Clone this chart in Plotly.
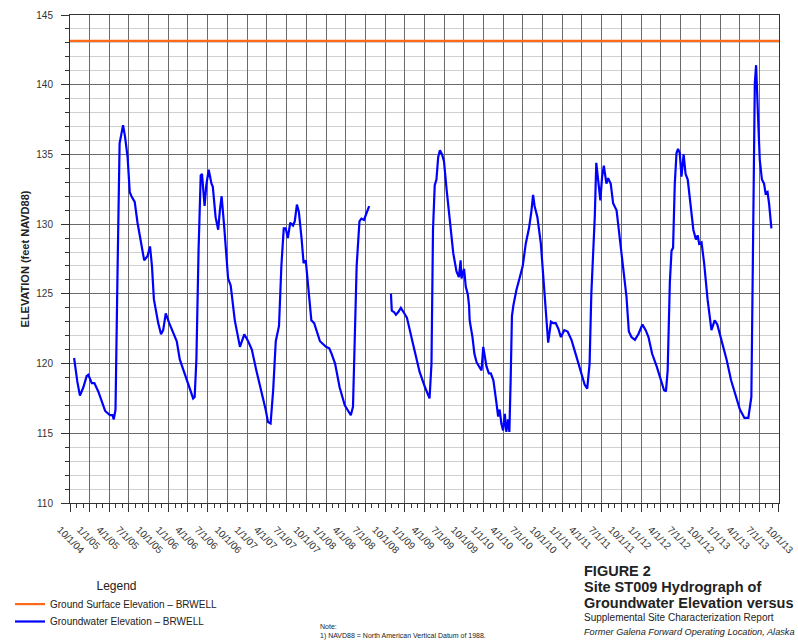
import plotly.graph_objects as go

# ---------------- data ----------------
gs_dates = ["2004-10-01", "2013-10-01"]
gs_elev = [143.15, 143.15]

gw_dates = [
    "2004-10-20", "2004-11-01", "2004-11-04", "2004-11-16", "2004-12-02", "2004-12-17", "2004-12-25",
    "2005-01-10", "2005-01-22", "2005-02-09", "2005-02-23", "2005-03-13", "2005-04-04", "2005-04-16",
    "2005-04-22", "2005-04-30", "2005-05-09", "2005-05-19", "2005-06-04", "2005-06-13", "2005-06-25",
    "2005-07-05", "2005-07-13", "2005-07-28", "2005-08-10", "2005-08-25", "2005-09-10", "2005-09-25",
    "2005-10-07", "2005-10-16", "2005-10-25", "2005-11-14", "2005-11-27", "2005-12-07", "2005-12-19",
    "2006-01-04", "2006-01-22", "2006-02-08", "2006-02-22", "2006-03-16", "2006-04-10", "2006-04-25",
    "2006-05-02", "2006-05-10", "2006-05-20", "2006-05-30", "2006-06-05", "2006-06-17", "2006-06-25",
    "2006-07-06", "2006-07-19", "2006-07-25", "2006-08-07", "2006-08-19", "2006-08-27", "2006-09-04",
    "2006-09-16", "2006-10-04", "2006-10-16", "2006-11-04", "2006-11-28", "2006-12-18",
    "2007-01-05", "2007-01-22", "2007-02-12", "2007-03-07", "2007-03-27", "2007-04-07", "2007-04-19",
    "2007-05-01", "2007-05-13", "2007-05-28", "2007-06-08", "2007-06-19", "2007-06-28", "2007-07-08",
    "2007-07-19", "2007-08-01", "2007-08-09", "2007-08-19", "2007-08-28", "2007-09-10", "2007-09-19",
    "2007-09-29", "2007-10-10", "2007-10-25", "2007-11-07", "2007-11-19", "2007-12-04",
    "2008-01-01", "2008-01-16", "2008-01-27", "2008-02-12", "2008-03-04", "2008-03-28", "2008-04-13",
    "2008-04-25", "2008-05-05", "2008-05-13", "2008-05-22", "2008-06-04", "2008-06-13", "2008-06-25",
    "2008-07-07", "2008-07-19", "2008-09-01", "2008-10-28", "2008-11-01", "2008-11-11", "2008-11-20",
    "2008-12-01", "2008-12-13", "2008-12-25",
    "2009-01-10", "2009-02-09", "2009-03-10", "2009-04-04", "2009-04-25", "2009-05-04", "2009-05-11",
    "2009-05-19", "2009-05-27", "2009-06-04", "2009-06-12", "2009-06-22", "2009-07-01", "2009-07-13",
    "2009-07-28", "2009-08-13", "2009-08-28", "2009-09-08", "2009-09-16", "2009-09-20", "2009-10-02",
    "2009-10-10", "2009-10-19", "2009-10-25", "2009-10-28", "2009-11-10", "2009-11-19", "2009-11-29",
    "2009-12-14", "2009-12-22", "2009-12-30",
    "2010-01-07", "2010-01-14", "2010-01-25", "2010-02-03", "2010-02-15", "2010-02-21", "2010-03-01",
    "2010-03-09", "2010-03-16", "2010-03-24", "2010-04-01", "2010-04-09", "2010-04-16", "2010-04-24",
    "2010-04-30", "2010-05-06", "2010-05-12", "2010-05-19", "2010-05-25", "2010-06-02", "2010-06-16",
    "2010-07-01", "2010-07-15", "2010-07-30", "2010-08-10", "2010-08-18", "2010-08-25", "2010-09-07",
    "2010-09-23", "2010-10-08", "2010-10-19", "2010-10-27", "2010-11-09", "2010-11-19", "2010-12-01",
    "2010-12-13", "2010-12-25",
    "2011-01-10", "2011-01-25", "2011-02-12", "2011-03-07", "2011-03-30", "2011-04-14", "2011-04-26",
    "2011-05-07", "2011-05-15", "2011-05-22", "2011-05-31", "2011-06-07", "2011-06-16", "2011-06-26",
    "2011-07-04", "2011-07-12", "2011-07-24", "2011-08-01", "2011-08-13", "2011-08-24", "2011-09-09",
    "2011-09-25", "2011-10-10", "2011-10-25", "2011-11-05", "2011-11-17", "2011-12-03", "2011-12-19",
    "2012-01-07", "2012-01-22", "2012-02-04", "2012-02-21", "2012-03-13", "2012-04-02", "2012-04-16",
    "2012-04-25", "2012-05-03", "2012-05-13", "2012-05-21", "2012-05-28", "2012-06-05", "2012-06-13",
    "2012-06-20", "2012-06-28", "2012-07-06", "2012-07-16", "2012-07-25", "2012-08-04", "2012-08-15",
    "2012-08-30", "2012-09-11", "2012-09-19", "2012-09-26", "2012-10-07", "2012-10-19", "2012-11-04",
    "2012-11-22", "2012-12-07", "2012-12-19",
    "2013-01-07", "2013-01-31", "2013-02-21", "2013-03-16", "2013-04-03", "2013-04-24", "2013-05-12",
    "2013-05-26", "2013-06-04", "2013-06-11", "2013-06-17", "2013-06-21", "2013-06-26", "2013-07-04",
    "2013-07-14", "2013-07-24", "2013-07-31", "2013-08-09", "2013-08-16", "2013-08-27",
]
gw_elev = [
    120.4, 118.8, 118.7, 117.7, 118.3, 119.1, 119.2,
    118.6, 118.6, 118.0, 117.4, 116.6, 116.3, 116.3,
    116.0, 116.7, 126.2, 135.8, 137.1, 136.3, 134.8,
    132.3, 132.0, 131.6, 130.1, 128.9, 127.4, 127.7,
    128.4, 127.0, 124.6, 122.9, 122.1, 122.4, 123.6,
    122.9, 122.2, 121.6, 120.3, 119.3, 118.2, 117.5,
    117.6, 120.3, 128.1, 133.5, 133.6, 131.3, 132.8,
    133.9, 132.9, 132.7, 130.5, 129.6, 131.0, 132.0,
    129.8, 126.1, 125.6, 123.1, 121.2, 122.1,
    121.6, 121.0, 119.5, 118.1, 116.7, 115.8, 115.7,
    118.1, 121.6, 122.7, 127.0, 129.7, 129.7, 129.0,
    130.1, 129.9, 130.2, 131.4, 130.9, 128.9, 127.2,
    127.4, 125.5, 123.1, 122.9, 122.3, 121.6,
    121.2, 121.1, 120.7, 120.0, 118.3, 117.0, 116.6,
    116.3, 116.9, 121.0, 127.0, 130.2, 130.4, 130.3,
    130.8, 131.3, None, 125.0, 123.8, 123.7, 123.5,
    123.7, 124.0, 123.7,
    123.3, 121.3, 119.4, 118.3, 117.5, 120.0, 129.6,
    132.8, 133.2, 134.8, 135.3, 135.0, 134.5, 132.5,
    130.3, 127.9, 126.6, 126.2, 127.4, 126.1, 126.8,
    125.5, 125.0, 124.2, 123.1, 121.9, 120.7, 120.1,
    119.7, 119.5, 121.2,
    120.5, 119.8, 119.3, 119.3, 118.8, 117.9, 117.2,
    116.2, 116.7, 115.7, 115.2, 116.4, 115.1, 116.0,
    115.1, 118.8, 123.4, 124.2, 124.8, 125.3, 126.1,
    127.0, 128.6, 129.7, 130.9, 132.1, 131.3, 130.5,
    128.6, 125.5, 122.9, 121.5, 123.0, 122.9, 122.9,
    122.5, 121.9,
    122.4, 122.3, 121.7, 120.5, 119.3, 118.5, 118.2,
    120.0, 125.0, 127.2, 130.5, 134.4, 132.9, 131.7,
    133.4, 134.2, 132.9, 133.3, 132.9, 131.5, 131.0,
    128.9, 127.0, 124.8, 122.3, 121.9, 121.7, 122.1,
    122.8, 122.4, 121.9, 120.7, 119.8, 118.8, 118.1,
    118.0, 119.5, 125.8, 128.1, 128.3, 132.9, 135.1,
    135.4, 135.1, 133.4, 135.0, 133.6, 133.2, 131.7,
    129.6, 128.9, 129.2, 128.6, 128.7, 127.2, 124.6,
    122.4, 123.1, 122.8,
    121.7, 120.3, 118.8, 117.6, 116.7, 116.1, 116.1,
    117.6, 128.1, 140.1, 141.4, 138.9, 137.7, 134.6,
    133.2, 132.9, 132.2, 132.3, 131.5, 129.7,
]

x_range = ["2004-10-01", "2013-10-01 04:00"]
y_range = [110, 145]

# ---------------- layout geometry (pixels) ----------------
W, H = 798, 641
ML, MR, MT, MB = 70, 19, 15, 138
PW, PH = W - ML - MR, H - MT - MB


def px_x(px):
    return (px - ML) / PW


def px_y(py):
    return (H - MB - py) / PH


FONT = "Liberation Sans, Arial, sans-serif"
DARK_GRID = "#6a6a6a"
LIGHT_GRID = "#cfcfcf"

fig = go.Figure()
fig.add_trace(go.Scatter(
    x=gs_dates, y=gs_elev, mode="lines",
    name="Ground Surface Elevation \u2013 BRWELL",
    line=dict(color="#FF6A1A", width=2.2),
    legend="legend",
))
fig.add_trace(go.Scatter(
    x=gw_dates, y=gw_elev, mode="lines", connectgaps=False,
    name="Groundwater Elevation \u2013 BRWELL",
    line=dict(color="#0000FF", width=2.2),
    legend="legend2",
))

fig.update_xaxes(
    type="date", range=x_range, tick0="2004-10-01", dtick="M3",
    tickformat="%-m/%-d/%y", tickangle=45,
    tickfont=dict(family=FONT, size=10, color="#333333"),
    ticklabelshift=-10, ticklabelstandoff=8,
    showgrid=True, gridcolor=DARK_GRID, gridwidth=1,
    ticks="outside", ticklen=8, tickcolor="#333333",
    minor=dict(dtick="M1", ticks="outside", ticklen=4, tickcolor="#333333", showgrid=False),
    showline=True, linecolor="#333333", linewidth=1, mirror=True,
    zeroline=False,
)
fig.update_yaxes(
    range=y_range, dtick=5, tick0=110,
    tickfont=dict(family=FONT, size=10, color="#333333"),
    showgrid=True, gridcolor=DARK_GRID, gridwidth=1,
    ticks="outside", ticklen=8, tickcolor="#333333",
    minor=dict(dtick=1, ticks="outside", ticklen=4, tickcolor="#333333",
               showgrid=True, gridcolor=LIGHT_GRID, gridwidth=1),
    showline=True, linecolor="#333333", linewidth=1, mirror=True,
    zeroline=False, ticklabelstandoff=6,
    title=dict(text="<b>ELEVATION (feet NAVD88)</b>", standoff=4,
               font=dict(family=FONT, size=11, color="#222222")),
)

TITLE_X = 582
annotations = [
    dict(text="Note:<br>1) NAVD88 = North American Vertical Datum of 1988.",
         x=px_x(318), y=px_y(621), xanchor="left", yanchor="top", align="left",
         font=dict(family=FONT, size=7, color="#222222")),
    dict(text="<b>FIGURE 2</b>", x=px_x(TITLE_X), y=px_y(571), xanchor="left", yanchor="middle",
         font=dict(family=FONT, size=14.5, color="#222222")),
    dict(text="<b>Site ST009 Hydrograph of</b>", x=px_x(TITLE_X), y=px_y(587), xanchor="left",
         yanchor="middle", font=dict(family=FONT, size=14.5, color="#222222")),
    dict(text="<b>Groundwater Elevation versus</b>", x=px_x(TITLE_X), y=px_y(603), xanchor="left",
         yanchor="middle", font=dict(family=FONT, size=14.5, color="#222222")),
    dict(text="Supplemental Site Characterization Report", x=px_x(TITLE_X), y=px_y(617),
         xanchor="left", yanchor="middle", font=dict(family=FONT, size=10, color="#222222")),
    dict(text="<i>Former Galena Forward Operating Location, Alaska</i>", x=px_x(TITLE_X),
         y=px_y(632), xanchor="left", yanchor="middle",
         font=dict(family=FONT, size=9.2, color="#222222")),
]
for a in annotations:
    a.update(xref="paper", yref="paper", showarrow=False)

LEG_FONT = dict(family=FONT, size=10, color="#222222")
fig.update_layout(
    width=W, height=H,
    margin=dict(l=ML, r=MR, t=MT, b=MB, autoexpand=False),
    paper_bgcolor="white", plot_bgcolor="white",
    font=dict(family=FONT, color="#222222"),
    showlegend=True,
    legend=dict(
        x=px_x(10), y=px_y(574), xanchor="left", yanchor="top",
        orientation="v", bgcolor="rgba(0,0,0,0)", font=LEG_FONT, itemwidth=30,
        title=dict(text="Legend", side="top center", font=dict(family=FONT, size=12, color="#222222")),
    ),
    legend2=dict(
        x=px_x(10), y=px_y(607), xanchor="left", yanchor="top",
        orientation="v", bgcolor="rgba(0,0,0,0)", font=LEG_FONT, itemwidth=30,
    ),
    annotations=annotations,
)

fig.write_html("out.html")
